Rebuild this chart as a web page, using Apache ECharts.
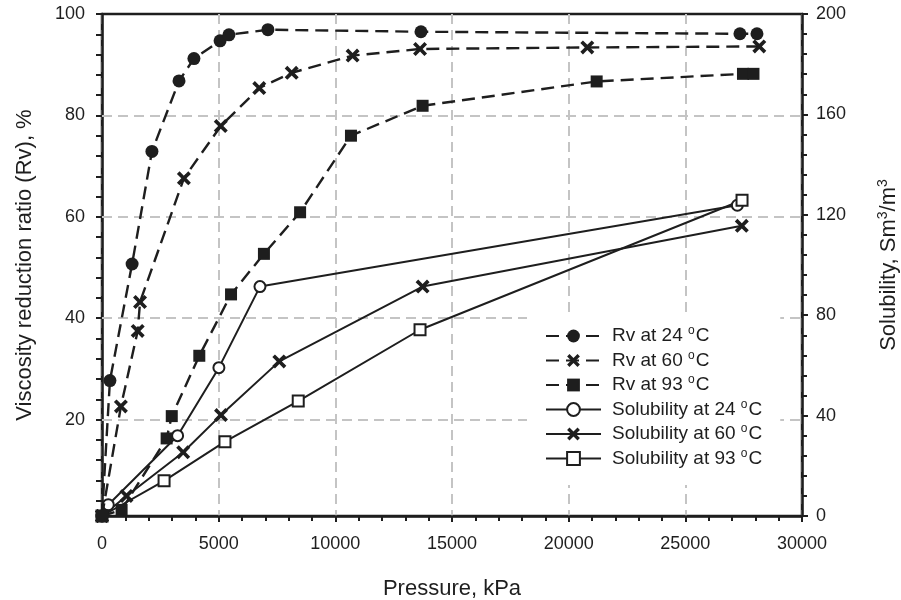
<!DOCTYPE html>
<html>
<head>
<meta charset="utf-8">
<script src="https://cdn.jsdelivr.net/npm/echarts@6/dist/echarts.min.js"></script>
<style>
  html, body { margin: 0; padding: 0; background: #fff; }
  #chart { width: 901px; height: 600px; }
</style>
</head>
<body>
<div id="chart"></div>
<script>
// Viscosity reduction ratio (left axis, %) at three temperatures
const rv24Pressure = [0, 340, 1290, 2140, 3300, 3940, 5060, 5440, 7110, 13670, 27340, 28070];
const rv24Values   = [1, 27.7, 50.7, 72.9, 86.8, 91.2, 94.7, 95.9, 96.9, 96.5, 96.1, 96.1];

const rv60Pressure = [0, 810, 1530, 1630, 3510, 5090, 6740, 8130, 10740, 13630, 20800, 28170];
const rv60Values   = [1, 22.6, 37.5, 43.2, 67.6, 77.9, 85.4, 88.4, 91.8, 93.1, 93.4, 93.6];

const rv93Pressure = [0, 840, 2770, 2990, 4170, 5530, 6940, 8490, 10670, 13740, 21200, 27470, 27920];
const rv93Values   = [1, 2.2, 16.3, 20.7, 32.6, 44.7, 52.7, 60.9, 76.0, 81.9, 86.7, 88.2, 88.2];

// Gas solubility (right axis, Sm3/m3) at three temperatures
const sol24Pressure = [0, 270, 3240, 5010, 6770, 27230];
const sol24Values   = [0, 4.5, 32.0, 59.1, 91.4, 123.8];

const sol60Pressure = [0, 1050, 3480, 5100, 7600, 13740, 27420];
const sol60Values   = [0, 8.0, 25.4, 40.2, 61.6, 91.4, 115.6];

const sol93Pressure = [0, 2660, 5270, 8410, 13630, 27430];
const sol93Values   = [0, 14.0, 29.6, 45.8, 74.2, 125.8];

// Axis ticks and labels
const leftLabelValues = [20, 40, 60, 80, 100];
const leftTickValues  = [4, 8, 12, 16, 20, 24, 28, 32, 36, 40, 44, 48, 52, 56, 60,
                         64, 68, 72, 76, 80, 84, 88, 92, 96, 100];
const leftGridValues  = [20, 40, 60, 80];

const INK = '#1e1e1e';
const GRID_GRAY = '#c4c4c4';
const FONT = '"Liberation Sans", Arial, Helvetica, sans-serif';

const crossPath = 'path://M0,2.6L2.6,0L7,4.4L11.4,0L14,2.6L9.6,7L14,11.4L11.4,14L7,9.6L2.6,14L0,11.4L4.4,7Z';

function pairs(xs, ys) {
  return xs.map((x, i) => [x, ys[i]]);
}

function makeSeries(name, xs, ys, yAxisIndex, symbol, size, dashed, hollow, z) {
  return {
    name: name,
    type: 'line',
    yAxisIndex: yAxisIndex,
    data: pairs(xs, ys),
    symbol: symbol,
    symbolSize: size,
    showAllSymbol: true,
    clip: false,
    z: z,
    lineStyle: {
      color: INK,
      width: dashed ? 2.4 : 2,
      type: dashed ? [13, 7] : 'solid'
    },
    itemStyle: hollow
      ? { color: '#fff', borderColor: INK, borderWidth: 2 }
      : { color: INK, borderColor: INK, borderWidth: 0 },
    emphasis: { disabled: true }
  };
}

const rv24Series = makeSeries('Rv at 24 °C', rv24Pressure, rv24Values, 0, 'circle', 13, true, false, 4);
// horizontal reference lines placed on the left (Rv) scale
rv24Series.markLine = {
  silent: true,
  z: 1,
  symbol: ['none', 'none'],
  label: { show: false },
  lineStyle: { color: GRID_GRAY, width: 2, type: [10, 6] },
  emphasis: { disabled: true },
  animation: false,
  data: leftGridValues.map(v => ({ yAxis: v }))
};

const series = [
  rv24Series,
  makeSeries('Rv at 60 °C', rv60Pressure, rv60Values, 0, crossPath, 14, true, false, 4),
  makeSeries('Rv at 93 °C', rv93Pressure, rv93Values, 0, 'rect', 12, true, false, 4),
  makeSeries('Solubility at 24 °C', sol24Pressure, sol24Values, 1, 'circle', 11, false, true, 3),
  makeSeries('Solubility at 60 °C', sol60Pressure, sol60Values, 1, crossPath, 14, false, false, 3),
  makeSeries('Solubility at 93 °C', sol93Pressure, sol93Values, 1, 'rect', 11, false, true, 3)
];

const axisLineStyle = { color: INK, width: 2.5 };
const tickStyle = { color: INK, width: 2 };
const labelStyle = { color: INK, fontSize: 18, fontFamily: FONT };

const option = {
  animation: false,
  backgroundColor: '#fff',
  textStyle: { fontFamily: FONT },
  grid: {
    left: 102, right: 99, top: 14, bottom: 84,
    outerBoundsMode: 'none',
    containLabel: false,
    show: true,
    borderColor: INK,
    borderWidth: 2.5,
    backgroundColor: 'transparent'
  },
  legend: {
    orient: 'vertical',
    left: 527,
    top: 316,
    z: 10,
    padding: [9, 18, 17, 18],
    backgroundColor: '#fff',
    itemWidth: 55,
    itemHeight: 16,
    itemGap: 4,
    selectedMode: false,
    textStyle: {
      color: INK,
      fontSize: 19,
      fontFamily: FONT,
      padding: [0, 0, 0, 6],
      rich: {
        sup: { fontSize: 12, fontFamily: FONT, color: INK, padding: [0, 1, 10, 0] }
      }
    },
    formatter: name => name.replace('°', '{sup|o}'),
    data: series.map(s => s.name)
  },
  xAxis: {
    type: 'value',
    min: 0,
    max: 30000,
    interval: 5000,
    name: 'Pressure, kPa',
    nameLocation: 'middle',
    nameGap: 62,
    nameTextStyle: { color: INK, fontSize: 22, fontFamily: FONT },
    axisLine: { show: true, onZero: false, lineStyle: axisLineStyle },
    axisTick: { show: true, inside: false, length: 6, lineStyle: tickStyle },
    minorTick: { show: true, splitNumber: 5, length: 5, lineStyle: tickStyle },
    axisLabel: Object.assign({ margin: 19, formatter: v => String(v) }, labelStyle),
    splitLine: { show: true, lineStyle: { color: GRID_GRAY, width: 2, type: [10, 6] } }
  },
  yAxis: [
    {
      type: 'value',
      position: 'left',
      min: 1,
      max: 100,
      name: 'Viscosity reduction ratio (Rv), %',
      nameLocation: 'middle',
      nameGap: 66,
      nameTextStyle: { color: INK, fontSize: 22, fontFamily: FONT },
      axisLine: { show: true, onZero: false, lineStyle: axisLineStyle },
      axisTick: { show: true, inside: false, length: 6, lineStyle: tickStyle, customValues: leftTickValues },
      axisLabel: Object.assign({ margin: 17, customValues: leftLabelValues, formatter: v => String(v) }, labelStyle),
      splitLine: { show: false }
    },
    {
      type: 'value',
      position: 'right',
      min: 0,
      max: 200,
      interval: 40,
      name: 'Solubility, Sm{sup|3}/m{sup|3}',
      nameLocation: 'middle',
      nameGap: 74,
      nameTextStyle: {
        color: INK, fontSize: 22, fontFamily: FONT,
        rich: { sup: { fontSize: 14, fontFamily: FONT, color: INK, padding: [0, 0, 12, 0] } }
      },
      axisLine: { show: true, onZero: false, lineStyle: axisLineStyle },
      axisTick: { show: true, inside: false, length: 6, lineStyle: tickStyle },
      minorTick: { show: true, splitNumber: 5, length: 5, lineStyle: tickStyle },
      axisLabel: Object.assign({ margin: 14, formatter: v => String(v) }, labelStyle),
      splitLine: { show: false }
    }
  ],
  series: series
};

const chart = echarts.init(document.getElementById('chart'), null, { renderer: 'canvas' });
chart.setOption(option);
</script>
</body>
</html>
